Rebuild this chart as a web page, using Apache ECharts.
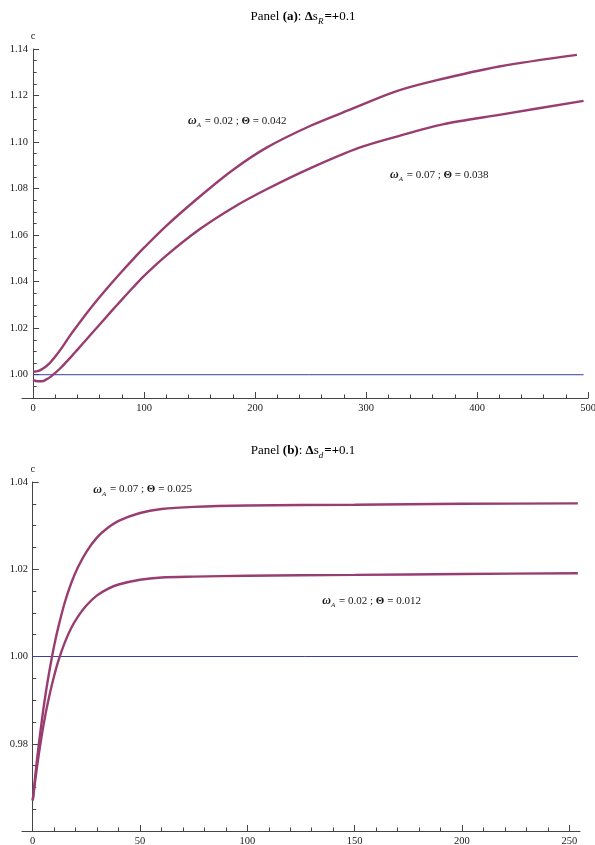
<!DOCTYPE html>
<html><head><meta charset="utf-8">
<script src="https://cdn.jsdelivr.net/npm/echarts@6/dist/echarts.min.js"></script>
<style>html,body{margin:0;padding:0;background:#fff}#c{width:595px;height:845px}</style>
</head><body><div id="c"></div>
<script>
// ---------- Panel (a) data ----------
const aUpperX = [0,5,10,15,20,25,30,35,40,45,50,60,70,80,90,100,120,150,180,210,250,285,325,363,420,490];
const aUpperY = [1.0013,1.0017,1.0030,1.0050,1.0078,1.0110,1.0145,1.0180,1.0212,1.0244,1.0275,1.0334,1.0390,1.0444,1.0496,1.0546,1.0640,1.0765,1.0880,1.0975,1.1070,1.1138,1.1215,1.1265,1.1325,1.1375];
const aLowerX = [0,4,8,12,16,20,25,30,35,40,45,50,60,70,80,90,100,120,150,180,210,250,294,330,370,420,496];
const aLowerY = [0.9978,0.9972,0.9972,0.9980,0.9992,1.0008,1.0030,1.0055,1.0081,1.0108,1.0135,1.0162,1.0216,1.0270,1.0323,1.0375,1.0425,1.0512,1.0625,1.0718,1.0796,1.0888,1.0976,1.1027,1.1077,1.1117,1.1177];
const aRefX = [0,496];
const aRefY = [1.00,1.00];
const aXTicks = [0,100,200,300,400,500];
const aYTicks = [1.00,1.02,1.04,1.06,1.08,1.10,1.12,1.14];

// ---------- Panel (b) data ----------
const bX = [0,2,4,6,8,10,12,15,18,21,25,30,35,40,50,60,75,100,150,200,254];
const bUpperY = [0.9670,0.9764,0.9844,0.9914,0.9973,1.0025,1.0069,1.0125,1.0169,1.0204,1.0240,1.0273,1.0295,1.0311,1.0329,1.0338,1.0343,1.0346,1.0348,1.0350,1.0351];
const bLowerY = [0.9670,0.9747,0.9813,0.9869,0.9916,0.9956,0.9991,1.0033,1.0066,1.0091,1.0117,1.0140,1.0155,1.0165,1.0176,1.0181,1.0183,1.0185,1.0187,1.0189,1.0191];
const bRefX = [0,254];
const bRefY = [1.00,1.00];
const bXTicks = [0,50,100,150,200,250];
const bYTicks = [0.98,1.00,1.02,1.04];

// ---------- annotation texts ----------
const titleA = '{nm|Panel }{bd|(a)}{nm|: }{bd|Δ}{nm|s}{sb|R}{bd|=+}{nm|0.1}';
const titleB = '{nm|Panel }{bd|(b)}{nm|: }{bd|Δ}{nm|s}{sb|d}{bd|=+}{nm|0.1}';
const noteA1 = {text:'{om|ω}{sb|A}{bd| = }{nm|0.02 ; }{bd|Θ = }{nm|0.042}', at:[184,1.1092]};
const noteA2 = {text:'{om|ω}{sb|A}{bd| = }{nm|0.07 ; }{bd|Θ = }{nm|0.038}', at:[366,1.0859]};
const noteB1 = {text:'{om|ω}{sb|A}{bd| = }{nm|0.07 ; }{bd|Θ = }{nm|0.025}', at:[51.2,1.0383]};
const noteB2 = {text:'{om|ω}{sb|A}{bd| = }{nm|0.02 ; }{bd|Θ = }{nm|0.012}', at:[157.9,1.0127]};

const SERIF = '"Liberation Serif","DejaVu Serif","Times New Roman",serif';
const CURVE = '#993d71';
const REF = '#3d3d9e';
const AX = '#444';
const TXT = '#1a1a1a';

function zip(xs, ys){ return xs.map((x,i)=>[x, ys[i]]); }
function between(lo, hi, step, skip){
  const out = [];
  for (let k = Math.round(lo/step); k*step <= hi + 1e-9; k++){
    const v = Math.round(k*step*1e6)/1e6;
    if (!skip.some(s => Math.abs(s - v) < 1e-9)) out.push(v);
  }
  return out;
}
function richStyles(base){
  return {
    nm:{fontFamily:SERIF,fontSize:base,color:TXT,lineHeight:base+5},
    bd:{fontFamily:SERIF,fontSize:base,fontWeight:'bold',color:TXT,lineHeight:base+5},
    om:{fontFamily:SERIF,fontSize:base+1,fontWeight:'bold',fontStyle:'italic',color:TXT,lineHeight:base+5},
    sb:{fontFamily:SERIF,fontSize:base-4,fontStyle:'italic',color:TXT,verticalAlign:'bottom',lineHeight:base+5,padding:[0,1,0,0]}
  };
}
function xMajor(grid, min, max, ticks){
  return {type:'value', gridIndex:grid, min, max, position:'bottom',
    axisLine:{show:true,onZero:false,lineStyle:{color:AX,width:1}},
    axisTick:{show:true,inside:true,length:6,customValues:ticks,lineStyle:{color:AX,width:1}},
    axisLabel:{show:true,customValues:ticks,margin:5,fontFamily:SERIF,fontSize:10.5,color:TXT,hideOverlap:false},
    splitLine:{show:false}};
}
function xMinor(grid, min, max, ticks){
  return {type:'value', gridIndex:grid, min, max, position:'bottom',
    axisLine:{show:false,onZero:false},
    axisTick:{show:true,inside:true,length:3.5,customValues:ticks,lineStyle:{color:AX,width:1}},
    axisLabel:{show:false}, splitLine:{show:false}};
}
function yMajor(grid, min, max, ticks, labelShift){
  return {type:'value', gridIndex:grid, min, max, position:'left',
    name:'c', nameLocation:'end', nameGap:7,
    nameTextStyle:{fontFamily:SERIF,fontSize:10.5,color:TXT,align:'center'},
    axisLine:{show:true,onZero:true,lineStyle:{color:AX,width:1}},
    axisTick:{show:true,inside:true,length:6,customValues:ticks,lineStyle:{color:AX,width:1}},
    axisLabel:{show:true,customValues:ticks,margin:labelShift,fontFamily:SERIF,fontSize:10.5,color:TXT,formatter:v=>v.toFixed(2)},
    splitLine:{show:false}};
}
function yMinor(grid, min, max, ticks){
  return {type:'value', gridIndex:grid, min, max, position:'left',
    axisLine:{show:false,onZero:true},
    axisTick:{show:true,inside:true,length:3.5,customValues:ticks,lineStyle:{color:AX,width:1}},
    axisLabel:{show:false}, splitLine:{show:false}};
}
function curve(xi, yi, data, note){
  const s = {type:'line', xAxisIndex:xi, yAxisIndex:yi, data, symbol:'none', smooth:0.3,
    lineStyle:{color:CURVE,width:2.4}, z:3, silent:true};
  if (note){
    s.markPoint = {symbol:'circle', symbolSize:1, silent:true,
      itemStyle:{color:'rgba(0,0,0,0)'},
      label:{show:true, position:'inside', formatter:()=>note.text, rich:richStyles(11)},
      data:[{coord:note.at}]};
  }
  return s;
}
function refLine(xi, yi, data){
  return {type:'line', xAxisIndex:xi, yAxisIndex:yi, data, symbol:'none',
    lineStyle:{color:REF,width:1}, itemStyle:{color:REF}, z:2, silent:true};
}

const chart = echarts.init(document.getElementById('c'), null, {renderer:'canvas'});
chart.setOption({
  animation:false,
  backgroundColor:'#fff',
  grid:[
    {left:22, top:49, width:566, height:349, containLabel:false, outerBoundsMode:'none'},
    {left:22, top:482, width:558, height:349, containLabel:false, outerBoundsMode:'none'}
  ],
  xAxis:[
    xMajor(0,-10,500,aXTicks),
    xMinor(0,-10,500,between(0,500,20,aXTicks)),
    xMajor(1,-5,255,bXTicks),
    xMinor(1,-5,255,between(0,255,10,bXTicks))
  ],
  yAxis:[
    yMajor(0,0.99,1.14,aYTicks,-6),
    yMinor(0,0.99,1.14,between(0.995,1.14,0.005,aYTicks)),
    yMajor(1,0.96,1.04,bYTicks,-6),
    yMinor(1,0.96,1.04,between(0.965,1.04,0.005,bYTicks))
  ],
  series:[
    refLine(0,0,zip(aRefX,aRefY)),
    curve(0,0,zip(aUpperX,aUpperY),noteA1),
    curve(0,0,zip(aLowerX,aLowerY),noteA2),
    refLine(2,2,zip(bRefX,bRefY)),
    curve(2,2,zip(bX,bUpperY),noteB1),
    curve(2,2,zip(bX,bLowerY),noteB2)
  ],
  graphic:[
    {type:'text', x:303, y:17, style:{text:titleA, rich:richStyles(13), align:'center', verticalAlign:'middle'}},
    {type:'text', x:303, y:451, style:{text:titleB, rich:richStyles(13), align:'center', verticalAlign:'middle'}}
  ]
});
</script></body></html>
